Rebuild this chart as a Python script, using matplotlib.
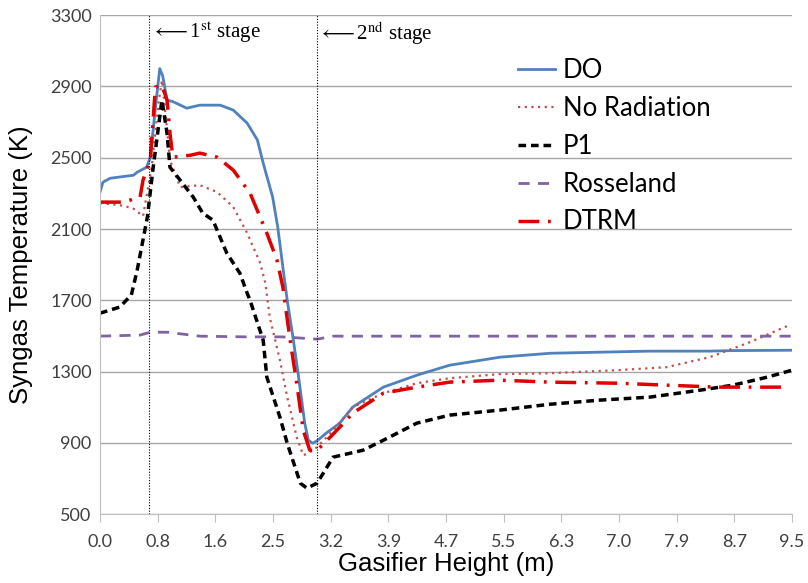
import matplotlib
matplotlib.use("Agg")
import matplotlib.pyplot as plt

# gasifier height (m) and syngas temperature (K)
do_x = [0.00, 0.04, 0.14, 0.46, 0.51, 0.64, 0.69, 0.76, 0.82, 0.86, 0.92, 1.00, 1.19, 1.37, 1.65, 1.83, 2.02, 2.16, 2.24, 2.37,
        2.44, 2.51, 2.57, 2.64, 2.70, 2.75, 2.81, 2.86, 2.92, 2.99, 3.12, 3.20, 3.29, 3.47, 3.89, 4.35, 4.80, 5.49, 6.18, 6.86,
        7.55, 8.37, 8.69, 9.50]
do_T = [2307, 2363, 2385, 2402, 2419, 2447, 2503, 2780, 3000, 2960, 2823, 2815, 2778, 2795, 2795, 2767, 2694, 2600, 2470, 2279,
        2110, 1886, 1700, 1516, 1347, 1196, 1011, 915, 898, 915, 960, 983, 1011, 1101, 1213, 1280, 1336, 1381, 1403, 1409,
        1415, 1415, 1418, 1420]

norad_x = [0.00, 0.27, 0.45, 0.59, 0.71, 0.80, 0.85, 0.89, 0.96, 1.10, 1.37, 1.61, 1.83, 2.02, 2.20, 2.27, 2.33, 2.47, 2.57, 2.70,
           2.79, 2.86, 2.98, 3.20, 3.47, 3.89, 4.35, 4.80, 5.49, 6.18, 7.10, 7.78, 8.37, 8.92, 9.43]
norad_T = [2245, 2234, 2217, 2172, 2450, 2800, 2935, 2784, 2486, 2335, 2346, 2307, 2223, 2077, 1908, 1796, 1605, 1364, 1157, 933,
           831, 842, 876, 971, 1101, 1179, 1235, 1263, 1286, 1291, 1308, 1325, 1381, 1465, 1555]

p1_x = [0.00, 0.27, 0.43, 0.51, 0.65, 0.73, 0.85, 0.92, 0.96, 1.10, 1.28, 1.41, 1.55, 1.74, 1.92, 2.02, 2.06, 2.24, 2.29, 2.47,
        2.57, 2.75, 2.84, 2.98, 3.20, 3.61, 3.89, 4.35, 4.80, 5.49, 6.18, 6.86, 7.55, 8.24, 8.69, 9.16, 9.50]
p1_T = [1628, 1662, 1730, 1869, 2167, 2447, 2823, 2638, 2447, 2374, 2279, 2189, 2150, 1965, 1852, 1740, 1700, 1476, 1269, 1044,
        898, 674, 646, 674, 820, 859, 915, 1011, 1056, 1084, 1117, 1140, 1157, 1196, 1224, 1269, 1308]

ross_x = [0.00, 0.55, 0.69, 0.92, 1.37, 2.00, 2.50, 2.88, 2.98, 3.20, 4.00, 6.00, 8.00, 9.50]
ross_T = [1499, 1505, 1521, 1521, 1499, 1495, 1495, 1485, 1482, 1499, 1499, 1499, 1499, 1499]

dtrm_x = [0.00, 0.32, 0.55, 0.59, 0.69, 0.76, 0.85, 0.92, 0.96, 1.00, 1.24, 1.37, 1.61, 1.83, 2.06, 2.29, 2.43, 2.51, 2.61, 2.70,
          2.79, 2.88, 2.98, 3.12, 3.29, 3.47, 3.89, 4.35, 4.80, 5.49, 6.18, 7.10, 7.78, 8.47, 9.38]
dtrm_T = [2251, 2251, 2279, 2374, 2486, 2896, 2907, 2823, 2638, 2503, 2514, 2526, 2503, 2430, 2301, 2077, 1925, 1774, 1476, 1235,
          971, 859, 859, 915, 988, 1067, 1179, 1213, 1241, 1252, 1241, 1235, 1224, 1213, 1213]

xtick_labels = ["0.0", "0.8", "1.6", "2.5", "3.2", "3.9", "4.7", "5.5", "6.3", "7.0", "7.9", "8.7", "9.5"]
stage_x = [0.673, 2.979]
stage_labels = [r"$\longleftarrow$1$^{\mathrm{st}}$ stage", r"$\longleftarrow$2$^{\mathrm{nd}}$ stage"]

plt.rcParams["mathtext.fontset"] = "stix"

fig = plt.figure(figsize=(8.08, 5.83), dpi=100)
ax = fig.add_axes([0.1238, 0.118, 0.8564, 0.856])

ax.plot(do_x, do_T, color="#4f81bd", lw=2, label="DO")
ax.plot(norad_x, norad_T, color="#c0504d", lw=1.6, ls=(0, (1, 2)), label="No Radiation")
ax.plot(p1_x, p1_T, color="black", lw=2.5, ls=(0, (2.2, 1.4)), label="P1")
ax.plot(ross_x, ross_T, color="#8064a2", lw=2, ls=(0, (4, 3)), label="Rosseland")
ax.plot(dtrm_x, dtrm_T, color="#e00000", lw=2.5, ls=(0, (6, 2.5, 0.8, 2.5)), label="DTRM")

for sx, lab in zip(stage_x, stage_labels):
    ax.axvline(sx, color="black", lw=0.8, ls=(0, (1, 1.5)))
    ax.text(sx + 0.02, 3275, lab, family="Liberation Serif", fontsize=15, va="top", ha="left")

ax.set_xlim(0, 9.5)
ax.set_ylim(500, 3300)
ax.set_yticks(range(500, 3301, 400))
ax.set_xticks([i * 9.5 / 12 for i in range(13)])
ax.set_xticklabels(xtick_labels)
ax.yaxis.grid(True, color="#a6a6a6", lw=1)
ax.set_axisbelow(True)

for s in ["top", "right"]:
    ax.spines[s].set_visible(False)
for s in ["left", "bottom"]:
    ax.spines[s].set_color("#bfbfbf")
ax.tick_params(axis="y", length=0, pad=6, labelsize=13, labelcolor="#404040")
ax.tick_params(axis="x", length=6, color="#bfbfbf", pad=8, labelsize=13, labelcolor="#404040")
for t in ax.get_xticklabels() + ax.get_yticklabels():
    t.set_family("Lato")

ax.set_xlabel("Gasifier Height (m)", family="Liberation Sans", fontsize=18.5, labelpad=2)
ax.set_ylabel("Syngas Temperature (K)", family="Liberation Sans", fontsize=18.5, labelpad=12)

ax.legend(loc="upper left", bbox_to_anchor=(0.6126, 0.94), bbox_transform=fig.transFigure,
          frameon=False, prop={"family": "Lato", "size": 18.5}, handlelength=1.45,
          labelspacing=0.5, handletextpad=0.3)

fig.savefig("out.png", dpi=100)
